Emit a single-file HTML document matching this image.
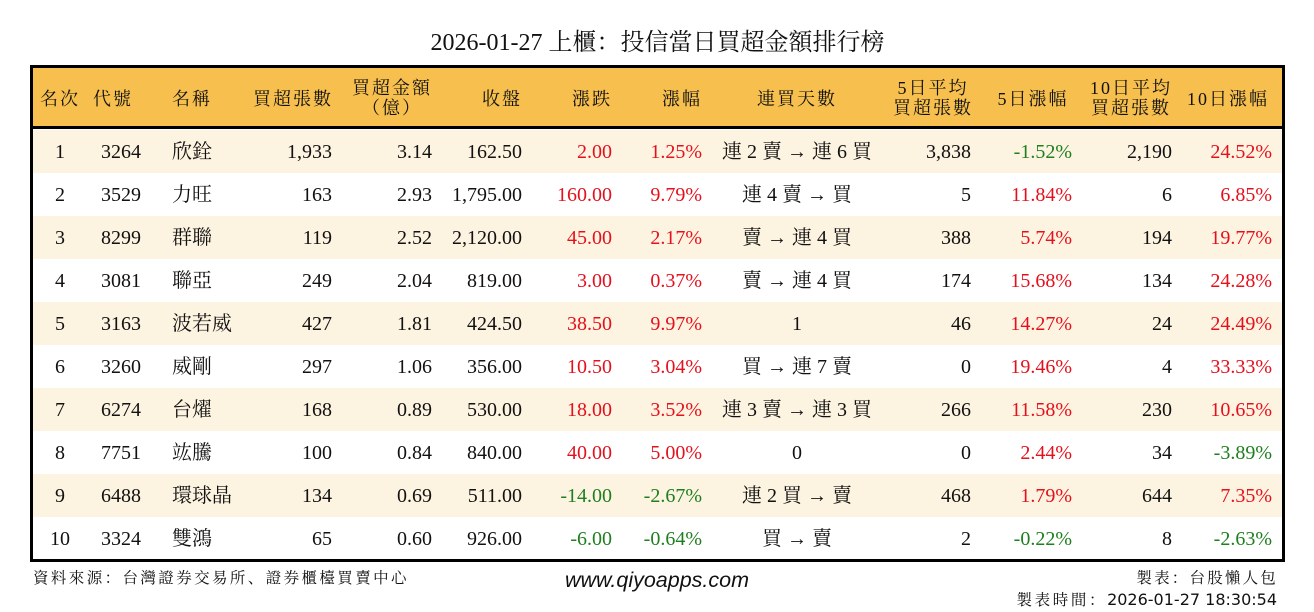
<!DOCTYPE html>
<html>
<head>
<meta charset="utf-8">
<style>
*{margin:0;padding:0;box-sizing:border-box;}
html,body{width:1314px;height:612px;background:#fff;overflow:hidden;}
body{position:relative;font-family:"Liberation Serif","Noto Serif CJK SC",serif;color:#111;}
.title{position:absolute;left:0;width:1314px;top:28px;height:30px;line-height:30px;text-align:center;font-size:24px;left:0;padding-left:1px;}
.tbl{position:absolute;left:30px;top:65px;width:1255px;height:497px;border:3px solid #000;}
.hdr{position:absolute;left:30px;top:65px;width:1255px;height:64px;background:#F6BF4E;border:3px solid #000;border-bottom:3px solid #000;}
.h{position:absolute;font-size:18px;letter-spacing:2px;text-align:center;white-space:nowrap;line-height:20px;}
.h1{top:89px;}
.h2{top:78px;}
.row{position:absolute;left:33px;width:1249px;height:43px;}
.odd{background:#FDF3E1;}
.c{position:absolute;top:1px;height:43px;line-height:43px;font-size:20px;white-space:nowrap;}
.r{color:#E5101C;}
.g{color:#1E7F1E;}
.foot{position:absolute;white-space:nowrap;}
</style>
</head>
<body>
<div class="title">2026-01-27 上櫃：投信當日買超金額排行榜</div>

<div class="hdr"></div>
<div class="tbl"></div>

<!-- headers -->
<div class="h h1" style="left:36px;width:48px;">名次</div>
<div class="h h1" style="left:90px;width:46px;">代號</div>
<div class="h h1" style="left:172px;width:44px;text-align:left;">名稱</div>
<div class="h h1" style="left:252px;width:82px;">買超張數</div>
<div class="h h2" style="left:350px;width:84px;">買超金額<br>（億）</div>
<div class="h h1" style="left:480px;width:44px;">收盤</div>
<div class="h h1" style="left:570px;width:44px;">漲跌</div>
<div class="h h1" style="left:660px;width:44px;">漲幅</div>
<div class="h h1" style="left:754px;width:86px;">連買天數</div>
<div class="h h2" style="left:892px;width:82px;">5日平均<br>買超張數</div>
<div class="h h1" style="left:992px;width:82px;">5日漲幅</div>
<div class="h h2" style="left:1090px;width:82px;">10日平均<br>買超張數</div>
<div class="h h1" style="left:1182px;width:92px;">10日漲幅</div>

<!-- rows -->
<div class="row odd" style="top:130px;">
<span class="c" style="left:-3px;width:60px;text-align:center;">1</span>
<span class="c" style="left:68px;">3264</span>
<span class="c" style="left:139px;">欣銓</span>
<span class="c" style="left:199px;width:100px;text-align:right;">1,933</span>
<span class="c" style="left:319px;width:80px;text-align:right;">3.14</span>
<span class="c" style="left:409px;width:80px;text-align:right;">162.50</span>
<span class="c r" style="left:499px;width:80px;text-align:right;">2.00</span>
<span class="c r" style="left:589px;width:80px;text-align:right;">1.25%</span>
<span class="c" style="left:674px;width:180px;text-align:center;">連 2 賣 → 連 6 買</span>
<span class="c" style="left:858px;width:80px;text-align:right;">3,838</span>
<span class="c g" style="left:959px;width:80px;text-align:right;">-1.52%</span>
<span class="c" style="left:1059px;width:80px;text-align:right;">2,190</span>
<span class="c r" style="left:1149px;width:90px;text-align:right;">24.52%</span>
</div>

<div class="row" style="top:173px;">
<span class="c" style="left:-3px;width:60px;text-align:center;">2</span>
<span class="c" style="left:68px;">3529</span>
<span class="c" style="left:139px;">力旺</span>
<span class="c" style="left:199px;width:100px;text-align:right;">163</span>
<span class="c" style="left:319px;width:80px;text-align:right;">2.93</span>
<span class="c" style="left:409px;width:80px;text-align:right;">1,795.00</span>
<span class="c r" style="left:499px;width:80px;text-align:right;">160.00</span>
<span class="c r" style="left:589px;width:80px;text-align:right;">9.79%</span>
<span class="c" style="left:674px;width:180px;text-align:center;">連 4 賣 → 買</span>
<span class="c" style="left:858px;width:80px;text-align:right;">5</span>
<span class="c r" style="left:959px;width:80px;text-align:right;">11.84%</span>
<span class="c" style="left:1059px;width:80px;text-align:right;">6</span>
<span class="c r" style="left:1149px;width:90px;text-align:right;">6.85%</span>
</div>

<div class="row odd" style="top:216px;">
<span class="c" style="left:-3px;width:60px;text-align:center;">3</span>
<span class="c" style="left:68px;">8299</span>
<span class="c" style="left:139px;">群聯</span>
<span class="c" style="left:199px;width:100px;text-align:right;">119</span>
<span class="c" style="left:319px;width:80px;text-align:right;">2.52</span>
<span class="c" style="left:409px;width:80px;text-align:right;">2,120.00</span>
<span class="c r" style="left:499px;width:80px;text-align:right;">45.00</span>
<span class="c r" style="left:589px;width:80px;text-align:right;">2.17%</span>
<span class="c" style="left:674px;width:180px;text-align:center;">賣 → 連 4 買</span>
<span class="c" style="left:858px;width:80px;text-align:right;">388</span>
<span class="c r" style="left:959px;width:80px;text-align:right;">5.74%</span>
<span class="c" style="left:1059px;width:80px;text-align:right;">194</span>
<span class="c r" style="left:1149px;width:90px;text-align:right;">19.77%</span>
</div>

<div class="row" style="top:259px;">
<span class="c" style="left:-3px;width:60px;text-align:center;">4</span>
<span class="c" style="left:68px;">3081</span>
<span class="c" style="left:139px;">聯亞</span>
<span class="c" style="left:199px;width:100px;text-align:right;">249</span>
<span class="c" style="left:319px;width:80px;text-align:right;">2.04</span>
<span class="c" style="left:409px;width:80px;text-align:right;">819.00</span>
<span class="c r" style="left:499px;width:80px;text-align:right;">3.00</span>
<span class="c r" style="left:589px;width:80px;text-align:right;">0.37%</span>
<span class="c" style="left:674px;width:180px;text-align:center;">賣 → 連 4 買</span>
<span class="c" style="left:858px;width:80px;text-align:right;">174</span>
<span class="c r" style="left:959px;width:80px;text-align:right;">15.68%</span>
<span class="c" style="left:1059px;width:80px;text-align:right;">134</span>
<span class="c r" style="left:1149px;width:90px;text-align:right;">24.28%</span>
</div>

<div class="row odd" style="top:302px;">
<span class="c" style="left:-3px;width:60px;text-align:center;">5</span>
<span class="c" style="left:68px;">3163</span>
<span class="c" style="left:139px;">波若威</span>
<span class="c" style="left:199px;width:100px;text-align:right;">427</span>
<span class="c" style="left:319px;width:80px;text-align:right;">1.81</span>
<span class="c" style="left:409px;width:80px;text-align:right;">424.50</span>
<span class="c r" style="left:499px;width:80px;text-align:right;">38.50</span>
<span class="c r" style="left:589px;width:80px;text-align:right;">9.97%</span>
<span class="c" style="left:674px;width:180px;text-align:center;">1</span>
<span class="c" style="left:858px;width:80px;text-align:right;">46</span>
<span class="c r" style="left:959px;width:80px;text-align:right;">14.27%</span>
<span class="c" style="left:1059px;width:80px;text-align:right;">24</span>
<span class="c r" style="left:1149px;width:90px;text-align:right;">24.49%</span>
</div>

<div class="row" style="top:345px;">
<span class="c" style="left:-3px;width:60px;text-align:center;">6</span>
<span class="c" style="left:68px;">3260</span>
<span class="c" style="left:139px;">威剛</span>
<span class="c" style="left:199px;width:100px;text-align:right;">297</span>
<span class="c" style="left:319px;width:80px;text-align:right;">1.06</span>
<span class="c" style="left:409px;width:80px;text-align:right;">356.00</span>
<span class="c r" style="left:499px;width:80px;text-align:right;">10.50</span>
<span class="c r" style="left:589px;width:80px;text-align:right;">3.04%</span>
<span class="c" style="left:674px;width:180px;text-align:center;">買 → 連 7 賣</span>
<span class="c" style="left:858px;width:80px;text-align:right;">0</span>
<span class="c r" style="left:959px;width:80px;text-align:right;">19.46%</span>
<span class="c" style="left:1059px;width:80px;text-align:right;">4</span>
<span class="c r" style="left:1149px;width:90px;text-align:right;">33.33%</span>
</div>

<div class="row odd" style="top:388px;">
<span class="c" style="left:-3px;width:60px;text-align:center;">7</span>
<span class="c" style="left:68px;">6274</span>
<span class="c" style="left:139px;">台燿</span>
<span class="c" style="left:199px;width:100px;text-align:right;">168</span>
<span class="c" style="left:319px;width:80px;text-align:right;">0.89</span>
<span class="c" style="left:409px;width:80px;text-align:right;">530.00</span>
<span class="c r" style="left:499px;width:80px;text-align:right;">18.00</span>
<span class="c r" style="left:589px;width:80px;text-align:right;">3.52%</span>
<span class="c" style="left:674px;width:180px;text-align:center;">連 3 賣 → 連 3 買</span>
<span class="c" style="left:858px;width:80px;text-align:right;">266</span>
<span class="c r" style="left:959px;width:80px;text-align:right;">11.58%</span>
<span class="c" style="left:1059px;width:80px;text-align:right;">230</span>
<span class="c r" style="left:1149px;width:90px;text-align:right;">10.65%</span>
</div>

<div class="row" style="top:431px;">
<span class="c" style="left:-3px;width:60px;text-align:center;">8</span>
<span class="c" style="left:68px;">7751</span>
<span class="c" style="left:139px;">竑騰</span>
<span class="c" style="left:199px;width:100px;text-align:right;">100</span>
<span class="c" style="left:319px;width:80px;text-align:right;">0.84</span>
<span class="c" style="left:409px;width:80px;text-align:right;">840.00</span>
<span class="c r" style="left:499px;width:80px;text-align:right;">40.00</span>
<span class="c r" style="left:589px;width:80px;text-align:right;">5.00%</span>
<span class="c" style="left:674px;width:180px;text-align:center;">0</span>
<span class="c" style="left:858px;width:80px;text-align:right;">0</span>
<span class="c r" style="left:959px;width:80px;text-align:right;">2.44%</span>
<span class="c" style="left:1059px;width:80px;text-align:right;">34</span>
<span class="c g" style="left:1149px;width:90px;text-align:right;">-3.89%</span>
</div>

<div class="row odd" style="top:474px;">
<span class="c" style="left:-3px;width:60px;text-align:center;">9</span>
<span class="c" style="left:68px;">6488</span>
<span class="c" style="left:139px;">環球晶</span>
<span class="c" style="left:199px;width:100px;text-align:right;">134</span>
<span class="c" style="left:319px;width:80px;text-align:right;">0.69</span>
<span class="c" style="left:409px;width:80px;text-align:right;">511.00</span>
<span class="c g" style="left:499px;width:80px;text-align:right;">-14.00</span>
<span class="c g" style="left:589px;width:80px;text-align:right;">-2.67%</span>
<span class="c" style="left:674px;width:180px;text-align:center;">連 2 買 → 賣</span>
<span class="c" style="left:858px;width:80px;text-align:right;">468</span>
<span class="c r" style="left:959px;width:80px;text-align:right;">1.79%</span>
<span class="c" style="left:1059px;width:80px;text-align:right;">644</span>
<span class="c r" style="left:1149px;width:90px;text-align:right;">7.35%</span>
</div>

<div class="row" style="top:517px;">
<span class="c" style="left:-3px;width:60px;text-align:center;">10</span>
<span class="c" style="left:68px;">3324</span>
<span class="c" style="left:139px;">雙鴻</span>
<span class="c" style="left:199px;width:100px;text-align:right;">65</span>
<span class="c" style="left:319px;width:80px;text-align:right;">0.60</span>
<span class="c" style="left:409px;width:80px;text-align:right;">926.00</span>
<span class="c g" style="left:499px;width:80px;text-align:right;">-6.00</span>
<span class="c g" style="left:589px;width:80px;text-align:right;">-0.64%</span>
<span class="c" style="left:674px;width:180px;text-align:center;">買 → 賣</span>
<span class="c" style="left:858px;width:80px;text-align:right;">2</span>
<span class="c g" style="left:959px;width:80px;text-align:right;">-0.22%</span>
<span class="c" style="left:1059px;width:80px;text-align:right;">8</span>
<span class="c g" style="left:1149px;width:90px;text-align:right;">-2.63%</span>
</div>

<!-- footer -->
<div class="foot" style="left:33px;top:567px;font-size:15.5px;letter-spacing:2.4px;line-height:20px;font-family:'Noto Serif CJK SC','Liberation Serif',serif;">資料來源：台灣證券交易所、證券櫃檯買賣中心</div>
<div class="foot" style="left:565px;top:568px;font-size:21.5px;font-style:italic;line-height:24px;font-family:'Liberation Sans',sans-serif;">www.qiyoapps.com</div>
<div class="foot" style="right:36px;top:567px;font-size:15.5px;letter-spacing:2.2px;line-height:20px;text-align:right;font-family:'Noto Serif CJK SC','Liberation Serif',serif;">製表：台股懶人包</div>
<div class="foot" style="right:37px;top:589px;line-height:20px;text-align:right;"><span style="font-size:15.5px;letter-spacing:2.6px;font-family:'Noto Serif CJK SC','Liberation Serif',serif;">製表時間：</span><span style="font-size:16px;font-family:'DejaVu Sans',sans-serif;">2026-01-27 18:30:54</span></div>
</body>
</html>
